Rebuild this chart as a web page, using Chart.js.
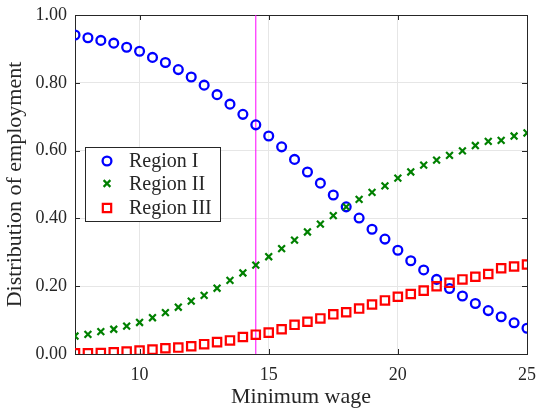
<!DOCTYPE html>
<html>
<head>
<meta charset="utf-8">
<script src="https://cdn.jsdelivr.net/npm/chart.js@4/dist/chart.umd.min.js"></script>
<style>
html,body{margin:0;padding:0;background:#fff;}
#wrap{width:538px;height:408px;}
</style>
</head>
<body>
<div id="wrap"><canvas id="c" width="538" height="408"></canvas></div>
<script>
const wage = [7.5,8,8.5,9,9.5,10,10.5,11,11.5,12,12.5,13,13.5,14,14.5,15,15.5,16,16.5,17,17.5,18,18.5,19,19.5,20,20.5,21,21.5,22,22.5,23,23.5,24,24.5,25];
const regionI = [0.941,0.933,0.925,0.917,0.905,0.893,0.875,0.860,0.839,0.817,0.793,0.765,0.737,0.707,0.676,0.643,0.611,0.574,0.537,0.504,0.469,0.434,0.401,0.368,0.339,0.306,0.275,0.248,0.220,0.193,0.171,0.149,0.128,0.110,0.092,0.076];
const regionII = [0.053,0.058,0.066,0.073,0.082,0.093,0.107,0.122,0.138,0.156,0.173,0.194,0.217,0.239,0.262,0.287,0.311,0.336,0.360,0.383,0.408,0.434,0.456,0.477,0.496,0.519,0.537,0.557,0.572,0.586,0.599,0.615,0.627,0.630,0.643,0.652];
const regionIII = [0.002,0.002,0.003,0.005,0.007,0.010,0.013,0.017,0.019,0.023,0.029,0.035,0.040,0.050,0.057,0.063,0.073,0.086,0.095,0.105,0.117,0.123,0.134,0.146,0.158,0.169,0.177,0.187,0.200,0.210,0.220,0.228,0.236,0.253,0.258,0.264];
const seriesNames = ['Region I','Region II','Region III'];
const cutoffWage = [14.5];
const xTicks = [10,15,20,25];
const yTicks = [0,0.2,0.4,0.6,0.8,1.0];

const TXT = '#262626';
const FONT = '"Liberation Serif", "DejaVu Serif", serif';

const pts = arr => wage.map((x,i)=>({x:x,y:arr[i]}));

const frameTicks = {
  id:'frameTicks',
  beforeDatasetsDraw(chart){
    const {ctx, chartArea:a, scales} = chart;
    ctx.save();
    ctx.strokeStyle = '#262626';
    ctx.lineWidth = 1;
    const L=5;
    ctx.beginPath();
    xTicks.forEach(v=>{
      const px = Math.round(scales.x.getPixelForValue(v))+0.5;
      ctx.moveTo(px,a.bottom); ctx.lineTo(px,a.bottom-L);
      ctx.moveTo(px,a.top); ctx.lineTo(px,a.top+L);
    });
    yTicks.forEach(v=>{
      const py = Math.round(scales.y.getPixelForValue(v))+0.5;
      ctx.moveTo(a.left,py); ctx.lineTo(a.left+L,py);
      ctx.moveTo(a.right,py); ctx.lineTo(a.right-L,py);
    });
    ctx.stroke();
    ctx.strokeRect(Math.round(a.left)+0.5, Math.round(a.top)+0.5, Math.round(a.right-a.left), Math.round(a.bottom-a.top));
    ctx.restore();
  }
};

const boxLegend = {
  id:'boxLegend',
  afterDatasetsDraw(chart){
    const ctx = chart.ctx;
    const x0=85.5, y0=147.5, w=135, h=74;
    ctx.save();
    ctx.fillStyle='#fff';
    ctx.fillRect(x0,y0,w,h);
    ctx.strokeStyle='#262626';
    ctx.lineWidth=1;
    ctx.strokeRect(x0,y0,w,h);
    const rows=[161,183.5,208];
    ctx.font = '20px ' + FONT;
    ctx.textBaseline='middle';
    ctx.textAlign='left';
    seriesNames.forEach((name,i)=>{
      const ds = chart.data.datasets[i];
      ctx.strokeStyle = ds.borderColor;
      ctx.fillStyle = 'rgba(0,0,0,0)';
      ctx.lineWidth = ds.borderWidth;
      Chart.helpers.drawPoint(ctx,{pointStyle:ds.pointStyle,rotation:0,radius:ds.pointRadius,borderWidth:ds.borderWidth},107,rows[i]);
      ctx.fillStyle = TXT;
      ctx.fillText(name,129,rows[i]+1);
    });
    ctx.restore();
  }
};

new Chart(document.getElementById('c'),{
  type:'scatter',
  data:{
    datasets:[
      {label:seriesNames[0],data:pts(regionI),pointStyle:'circle',pointRadius:4.4,borderWidth:2.3,borderColor:'#0000ff',backgroundColor:'rgba(0,0,0,0)',showLine:false,order:3},
      {label:seriesNames[1],data:pts(regionII),pointStyle:'crossRot',pointRadius:4.8,borderWidth:2.2,borderColor:'#008000',backgroundColor:'#008000',showLine:false,order:2},
      {label:seriesNames[2],data:pts(regionIII),pointStyle:'rect',pointRadius:5.9,borderWidth:2.2,borderColor:'#ff0000',backgroundColor:'rgba(0,0,0,0)',showLine:false,order:1},
      {label:'cutoff',type:'line',data:[{x:cutoffWage[0],y:0},{x:cutoffWage[0],y:1}],borderColor:'#ff00ff',borderWidth:1,pointRadius:0,showLine:true,order:4}
    ]
  },
  options:{
    responsive:false,
    animation:false,
    devicePixelRatio:1,
    layout:{padding:{left:0,top:15,right:11,bottom:0}},
    plugins:{legend:{display:false},tooltip:{enabled:false}},
    scales:{
      x:{
        type:'linear',min:7.5,max:25,
        afterBuildTicks:s=>{s.ticks=xTicks.map(v=>({value:v}));},
        afterFit:s=>{s.height=54;s.paddingLeft=0;s.paddingRight=0;},
        border:{display:false},
        grid:{color:'#e6e6e6',drawTicks:false,lineWidth:1},
        ticks:{color:TXT,font:{family:FONT,size:18},padding:10,maxRotation:0,callback:v=>String(v)},
        title:{display:true,text:'Minimum wage',color:TXT,font:{family:FONT,size:22,lineHeight:1},padding:{top:0,bottom:0}}
      },
      y:{
        type:'linear',min:0,max:1,
        afterBuildTicks:s=>{s.ticks=yTicks.map(v=>({value:v}));},
        afterFit:s=>{s.width=75;s.paddingTop=0;s.paddingBottom=0;},
        border:{display:false},
        grid:{color:'#e6e6e6',drawTicks:false,lineWidth:1},
        ticks:{color:TXT,font:{family:FONT,size:18},padding:8,callback:v=>Number(v).toFixed(2)},
        title:{display:true,text:'Distribution of employment',color:TXT,font:{family:FONT,size:22,lineHeight:1},padding:{top:4,bottom:0}}
      }
    }
  },
  plugins:[frameTicks,boxLegend]
});
</script>
</body>
</html>
